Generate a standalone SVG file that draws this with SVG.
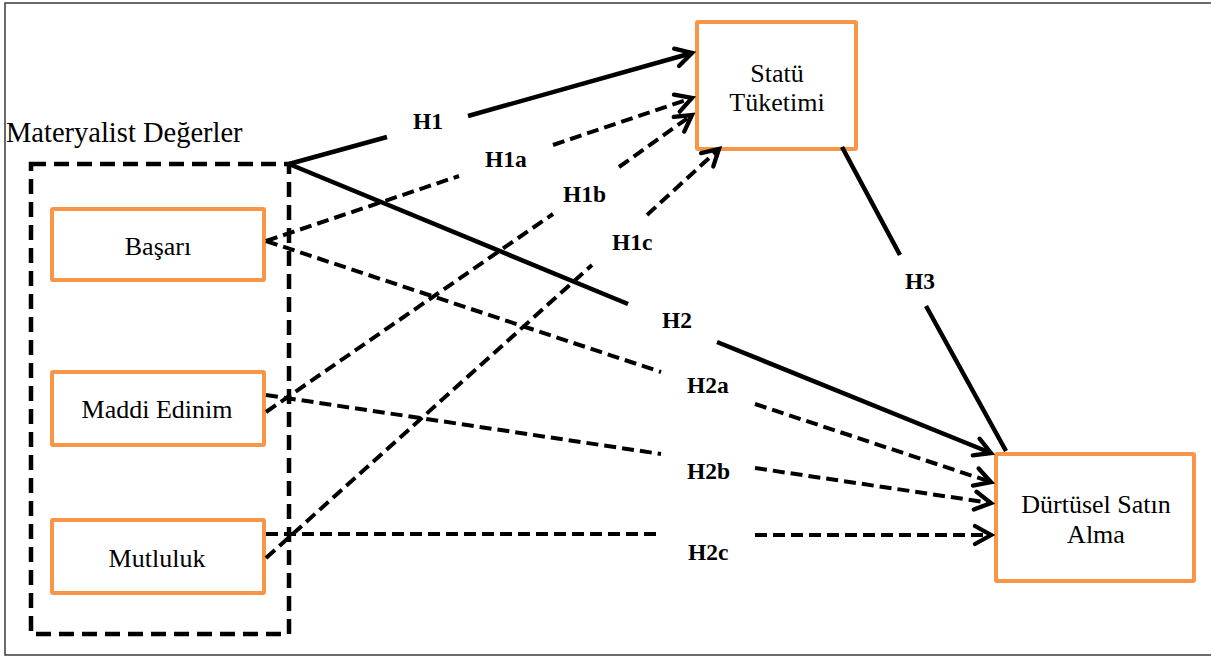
<svg xmlns="http://www.w3.org/2000/svg" width="1211" height="657" viewBox="0 0 1211 657">
  <defs>
    <style>
      .frame { fill: none; stroke: #3a3a3a; stroke-width: 1.5; }
      .box { fill: #ffffff; stroke: #F79646; stroke-width: 4; }
      .group-box { fill: none; stroke: #000000; stroke-width: 4.5; stroke-dasharray: 15 8; }
      .node-text { font-family: "Liberation Serif", "Times New Roman", serif; font-size: 26px; fill: #000000; }
      .title { font-family: "Liberation Serif", "Times New Roman", serif; font-size: 28.5px; fill: #000000; }
      .label { font-family: "Liberation Serif", "Times New Roman", serif; font-size: 23.5px; font-weight: bold; fill: #000000; }
      .solid { fill: none; stroke: #000000; stroke-width: 4.5; }
      .dashed { fill: none; stroke: #000000; stroke-width: 4; stroke-dasharray: 12 6; }
    </style>
    <marker id="arrow" markerUnits="userSpaceOnUse" viewBox="-20 -12 24 24" refX="0" refY="0" markerWidth="24" markerHeight="24" orient="auto">
      <path d="M-16,-9 L0,0 L-16,9" fill="none" stroke="#000000" stroke-width="4.3" stroke-linecap="round" stroke-linejoin="miter" stroke-dasharray="none"/>
    </marker>
  </defs>

  <rect x="0" y="0" width="1211" height="657" fill="#ffffff"/>

  <!-- outer frame -->
  <path class="frame" d="M1211,3 L5,3 L5,655 L1211,655"/>

  <!-- group container -->
  <g id="materyalist-degerler">
    <rect class="group-box" x="31" y="164" width="258" height="470"/>
    <text class="title" x="6" y="142">Materyalist Değerler</text>
  </g>

  <g id="basari">
    <rect class="box" x="52" y="209" width="212" height="71" rx="1"/>
    <text class="node-text" x="158" y="255" text-anchor="middle">Başarı</text>
  </g>

  <g id="maddi-edinim">
    <rect class="box" x="52" y="372" width="212" height="73" rx="1"/>
    <text class="node-text" x="157" y="418" text-anchor="middle">Maddi Edinim</text>
  </g>

  <g id="mutluluk">
    <rect class="box" x="52" y="520" width="212" height="73" rx="1"/>
    <text class="node-text" x="157" y="567" text-anchor="middle">Mutluluk</text>
  </g>

  <g id="statu-tuketimi">
    <rect class="box" x="697" y="22" width="159" height="127" rx="1"/>
    <text class="node-text" x="777" y="82" text-anchor="middle">Statü</text>
    <text class="node-text" x="777" y="111" text-anchor="middle">Tüketimi</text>
  </g>

  <g id="durtusel-satin-alma">
    <rect class="box" x="996" y="454" width="198" height="127" rx="1"/>
    <text class="node-text" x="1096" y="513" text-anchor="middle">Dürtüsel Satın</text>
    <text class="node-text" x="1096" y="543" text-anchor="middle">Alma</text>
  </g>

  <!-- connectors: each path is broken where its label sits -->
  <g id="connectors">
    <path id="h1" class="solid" d="M289,164 L387,137 M468,116 L692,53" marker-end="url(#arrow)"/>
    <path id="h2" class="solid" d="M289,164 L628,304 M717,342 L991,453" marker-end="url(#arrow)"/>
    <path id="h3" class="solid" d="M842,147 L900,255 M926,306 L1006,451"/>
    <path id="h1a" class="dashed" d="M266,241 L459,176 M553,145 L692,98" marker-end="url(#arrow)"/>
    <path id="h1b" class="dashed" d="M266,412 L553,214 M619,167 L692,115" marker-end="url(#arrow)"/>
    <path id="h1c" class="dashed" d="M266,558 L592,265 M647,215 L719,149" marker-end="url(#arrow)"/>
    <path id="h2a" class="dashed" d="M266,241 L661,372 M755,404 L991,482" marker-end="url(#arrow)"/>
    <path id="h2b" class="dashed" d="M266,395 L661,454 M755,468 L991,503" marker-end="url(#arrow)"/>
    <path id="h2c" class="dashed" d="M266,534 L661,534 M755,535 L991,535" marker-end="url(#arrow)"/>
  </g>

  <g id="labels">
    <text class="label" x="413" y="129">H1</text>
    <text class="label" x="485" y="167">H1a</text>
    <text class="label" x="563" y="202">H1b</text>
    <text class="label" x="612" y="250">H1c</text>
    <text class="label" x="662" y="328">H2</text>
    <text class="label" x="687" y="393">H2a</text>
    <text class="label" x="687" y="479">H2b</text>
    <text class="label" x="688" y="560">H2c</text>
    <text class="label" x="905" y="289">H3</text>
  </g>
</svg>
